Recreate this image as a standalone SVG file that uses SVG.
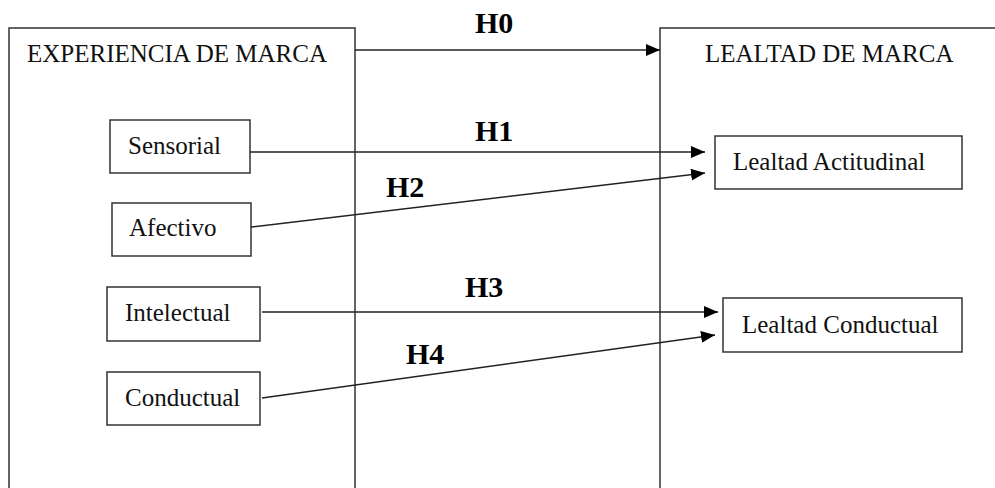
<svg xmlns="http://www.w3.org/2000/svg" width="995" height="488" viewBox="0 0 995 488">
  <style>
    .box { fill: #ffffff; stroke: #333333; stroke-width: 1.5; }
    .frame { fill: none; stroke: #333333; stroke-width: 1.5; }
    .lbl { font-size: 25px; fill: #111111; }
    .hyp { font-size: 30px; font-weight: bold; fill: #000000; }
    .link { fill: none; stroke: #222222; stroke-width: 1.5; }
  </style>
  <defs>
    <marker id="arrow" viewBox="0 0 14 12" refX="14" refY="6" markerWidth="14" markerHeight="12" markerUnits="userSpaceOnUse" orient="auto">
      <path d="M0,0 L14,6 L0,12 Z" fill="#000000"/>
    </marker>
  </defs>

  <rect width="995" height="488" fill="#ffffff"/>

  <g font-family="Liberation Serif, Tinos, DejaVu Serif, serif">
  <!-- Outer construct frames (open at the bottom / right edge) -->
  <g id="experiencia">
    <path class="frame" d="M9,490 L9,28 L355,28 L355,490"/>
    <text class="lbl" x="27" y="62">EXPERIENCIA DE MARCA</text>
  </g>
  <g id="lealtad">
    <path class="frame" d="M660,490 L660,28 L997,28"/>
    <text class="lbl" x="705" y="62">LEALTAD DE MARCA</text>
  </g>

  <!-- Experience dimensions -->
  <g id="sensorial">
    <rect class="box" x="110" y="120" width="140" height="53"/>
    <text class="lbl" x="128" y="154">Sensorial</text>
  </g>
  <g id="afectivo">
    <rect class="box" x="112" y="203" width="139" height="53"/>
    <text class="lbl" x="129" y="236">Afectivo</text>
  </g>
  <g id="intelectual">
    <rect class="box" x="107" y="287" width="153" height="54"/>
    <text class="lbl" x="125" y="321">Intelectual</text>
  </g>
  <g id="conductual">
    <rect class="box" x="107" y="372" width="153" height="53"/>
    <text class="lbl" x="125" y="406">Conductual</text>
  </g>

  <!-- Loyalty dimensions -->
  <g id="actitudinal">
    <rect class="box" x="715" y="136" width="247" height="53"/>
    <text class="lbl" x="733" y="170">Lealtad Actitudinal</text>
  </g>
  <g id="lealtad-conductual">
    <rect class="box" x="723" y="298" width="239" height="54"/>
    <text class="lbl" x="742" y="333">Lealtad Conductual</text>
  </g>

  <!-- Hypothesis paths -->
  <g id="connectors">
    <line class="link" x1="355" y1="50" x2="660" y2="50" marker-end="url(#arrow)"/>
    <line class="link" x1="250" y1="152" x2="705" y2="152" marker-end="url(#arrow)"/>
    <line class="link" x1="251" y1="227" x2="705" y2="173" marker-end="url(#arrow)"/>
    <line class="link" x1="262" y1="312" x2="718" y2="312" marker-end="url(#arrow)"/>
    <line class="link" x1="262" y1="398" x2="715" y2="335" marker-end="url(#arrow)"/>

    <text class="hyp" x="475" y="33">H0</text>
    <text class="hyp" x="475" y="141">H1</text>
    <text class="hyp" x="386" y="197">H2</text>
    <text class="hyp" x="465" y="297">H3</text>
    <text class="hyp" x="406" y="364">H4</text>
  </g>
  </g>
</svg>
